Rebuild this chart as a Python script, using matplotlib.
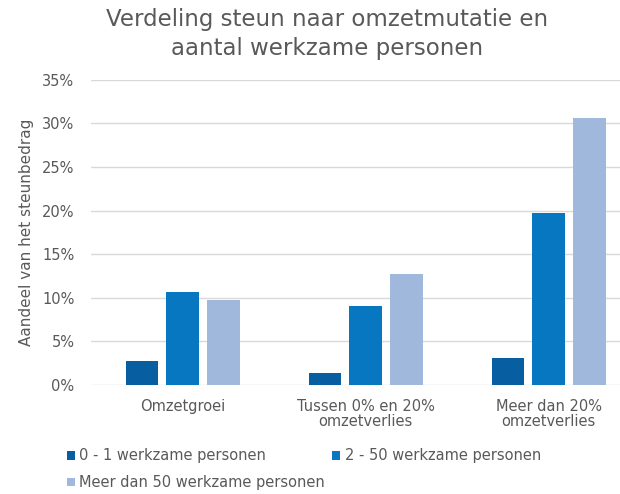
import numpy as np
import matplotlib
matplotlib.use("Agg")
import matplotlib.pyplot as plt

# Gegevens
categorieen = ["Omzetgroei", "Tussen 0% en 20%\nomzetverlies", "Meer dan 20%\nomzetverlies"]
reeksen = ["0 - 1 werkzame personen", "2 - 50 werkzame personen", "Meer dan 50 werkzame personen"]
klein = [2.7, 10.7, 9.7]
midden = [1.4, 9.1, 12.7]
groot = [3.1, 19.7, 30.6]
waarden = np.array([klein, midden, groot]).T  # rijen = reeks, kolommen = categorie

kleuren = ["#075FA2", "#0877C1", "#A0B8DC"]
tekstkleur = "#595959"

plt.rcParams["font.family"] = ["DejaVu Sans"]

fig = plt.figure(figsize=(6.2, 4.94), dpi=100)
ax = fig.add_axes([0.147, 0.2206, 0.853, 0.618])

x = np.arange(len(categorieen))
breedte = 0.178
stap = 0.222
for i, (naam, kleur) in enumerate(zip(reeksen, kleuren)):
    ax.bar(x + (i - 1) * stap, waarden[i], width=breedte, color=kleur, label=naam, zorder=3)

ax.set_ylim(0, 35)
ax.set_xlim(-0.5, 2.39)
ax.set_yticks(np.arange(0, 36, 5))
ax.set_yticklabels([f"{v}%" for v in range(0, 36, 5)])
ax.set_xticks(x)
ax.set_xticklabels(categorieen, linespacing=1.0)
ax.grid(axis="y", color="#D9D9D9", linewidth=1, zorder=0)
for s in ax.spines.values():
    s.set_visible(False)
ax.tick_params(axis="both", length=0, colors=tekstkleur, labelsize=10.5)
ax.tick_params(axis="y", pad=12)
ax.tick_params(axis="x", pad=10)
ax.set_ylabel("Aandeel van het steunbedrag", color=tekstkleur, fontsize=11, labelpad=6)

fig.text(0.527, 0.931, "Verdeling steun naar omzetmutatie en\naantal werkzame personen",
         ha="center", va="center", fontsize=16.5, color=tekstkleur, linespacing=1.35)

h, l = ax.get_legend_handles_labels()
volgorde = [0, 2, 1]
fig.legend([h[i] for i in volgorde], [l[i] for i in volgorde], ncol=2,
           loc="center left", bbox_to_anchor=(0.096, 0.05),
           bbox_transform=fig.transFigure, frameon=False, fontsize=10.5,
           handlelength=0.55, handleheight=0.55, handletextpad=0.3,
           columnspacing=0.5, labelspacing=0.8, labelcolor=tekstkleur,
           borderpad=0)

fig.savefig("out.png", dpi=100)
